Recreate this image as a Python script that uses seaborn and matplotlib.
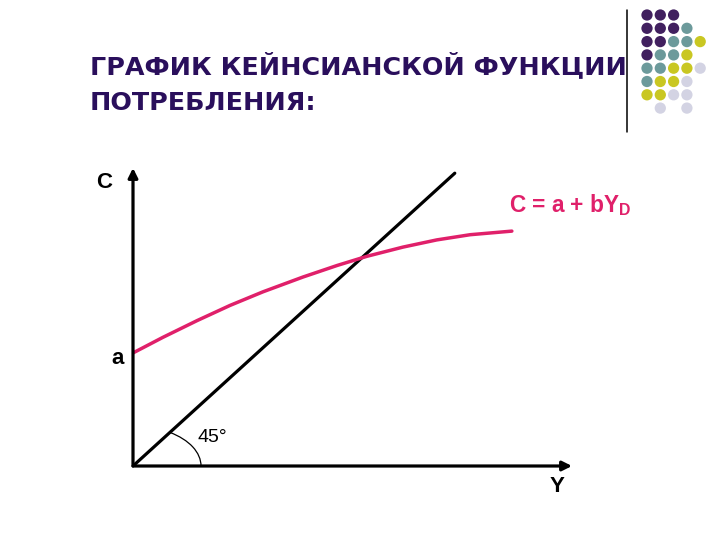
import numpy as np
import pandas as pd
import matplotlib
matplotlib.use("Agg")
import matplotlib.pyplot as plt
from matplotlib.patches import Arc
import seaborn as sns

# keynesian consumption function
income_45 = [0.0, 7.33]
cons_45 = [0.0, 7.33]
income_c = [0.0, 0.68, 1.46, 2.21, 2.96, 3.87, 4.65, 5.33, 6.15, 6.92, 7.68, 8.63]
cons_c = [2.83, 3.22, 3.64, 4.02, 4.36, 4.73, 5.02, 5.25, 5.48, 5.66, 5.79, 5.88]

title_lines = ["ГРАФИК КЕЙНСИАНСКОЙ ФУНКЦИИ", "ПОТРЕБЛЕНИЯ:"]

# decorative dot grid (row, col, colour key)
dot_row = [0, 0, 0,
           1, 1, 1, 1,
           2, 2, 2, 2, 2,
           3, 3, 3, 3,
           4, 4, 4, 4, 4,
           5, 5, 5, 5,
           6, 6, 6, 6,
           7, 7]
dot_col = [0, 1, 2,
           0, 1, 2, 3,
           0, 1, 2, 3, 4,
           0, 1, 2, 3,
           0, 1, 2, 3, 4,
           0, 1, 2, 3,
           0, 1, 2, 3,
           1, 3]
dot_kind = ["p", "p", "p",
            "p", "p", "p", "t",
            "p", "p", "t", "t", "y",
            "p", "t", "t", "y",
            "t", "t", "y", "y", "g",
            "t", "y", "y", "g",
            "y", "y", "g", "g",
            "g", "g"]
dot_colors = {"p": "#41205f", "t": "#6c9a9b", "y": "#c9c722", "g": "#d3d3e3"}

sns.set_theme(style="white")
plt.rcParams["font.family"] = ["Liberation Sans", "DejaVu Sans"]
plt.rcParams["mathtext.fontset"] = "custom"
plt.rcParams["mathtext.rm"] = "Liberation Sans"
plt.rcParams["mathtext.bf"] = "Liberation Sans:bold"

W, H = 720, 540
fig = plt.figure(figsize=(7.2, 5.4), dpi=100)
fig.patch.set_facecolor("white")

# background axes in pixel coords for slide decoration and labels
bg = fig.add_axes([0, 0, 1, 1])

dots = pd.DataFrame({"x": 647 + 13.3 * np.array(dot_col),
                     "y": 15 + 13.3 * np.array(dot_row),
                     "kind": dot_kind})
sns.scatterplot(data=dots, x="x", y="y", hue="kind", palette=dot_colors,
                s=66, edgecolor="none", legend=False, ax=bg)
bg.plot([627, 627], [10, 132], color="black", lw=1.1)
bg.set_xlim(0, W)
bg.set_ylim(H, 0)
bg.axis("off")

title_color = "#2a0f5c"
for i, line in enumerate(title_lines):
    bg.text(90, 74 + 36 * i, line, family="DejaVu Sans", weight="bold",
            fontsize=18.3, color=title_color, ha="left", va="baseline")

lbl = dict(fontsize=16, color="black", va="center", weight="bold")
bg.text(104, 183, "C", ha="center", **lbl)
bg.text(118, 358, "a", ha="center", **lbl)
bg.text(557, 487, "Y", ha="center", **lbl)
bg.text(197, 438, "45°", ha="left", fontsize=14, color="black", va="center")
pink = "#e0206a"
bg.text(509, 205, r"C = a + bY$_\mathbf{D}$", ha="left", va="center",
        fontsize=16.3, color=pink, weight="bold")

# main plot axes
ax = fig.add_axes([133 / W, 74 / H, 439 / W, 298 / H])
ax.patch.set_alpha(0)

sns.lineplot(x=income_45, y=cons_45, color="black", lw=2.3, ax=ax)
curve = pd.DataFrame({"Y": income_c, "C": cons_c})
sns.lineplot(data=curve, x="Y", y="C", color=pink, lw=2.5, ax=ax, sort=False)
ax.set_xlim(0, 10)
ax.set_ylim(0, 7.46)
ax.axis("off")

arrow = dict(arrowstyle="-|>", lw=2.3, color="black", mutation_scale=14,
             shrinkA=0, shrinkB=0)
ax.annotate("", xy=(10, 0), xytext=(0, 0), arrowprops=arrow, annotation_clip=False)
ax.annotate("", xy=(0, 7.46), xytext=(0, 0), arrowprops=arrow, annotation_clip=False)

ax.add_patch(Arc((0, 0), 2 * 68 / 43.9, 2 * 40 / 39.96, theta1=0, theta2=45,
                 color="black", lw=0.9, clip_on=False))

fig.savefig("out.png", dpi=100)
